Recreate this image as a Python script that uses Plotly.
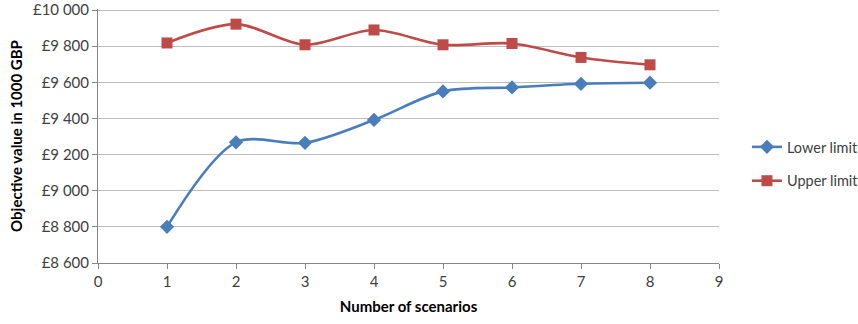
import plotly.graph_objects as go

# Objective values (in 1000 GBP) by number of scenarios
scenarios = [1, 2, 3, 4, 5, 6, 7, 8]
lower_limit = [8800, 9268, 9265, 9392, 9550, 9572, 9592, 9598]
upper_limit = [9818, 9922, 9808, 9890, 9808, 9815, 9738, 9697]

y_ticks = [8600, 8800, 9000, 9200, 9400, 9600, 9800, 10000]
y_tick_text = ["£" + f"{v:,}".replace(",", " ") for v in y_ticks]
x_ticks = list(range(0, 10))

FONT = "Lato, 'Open Sans', sans-serif"

fig = go.Figure()
fig.add_trace(go.Scatter(
    x=scenarios, y=lower_limit, name="Lower limit", legendgroup="lower",
    mode="lines+markers",
    line=dict(color="#4A7EBB", width=2.6, shape="spline", smoothing=0.9),
    marker=dict(symbol="diamond", size=11, color="#4A7EBB"),
))
fig.add_trace(go.Scatter(
    x=scenarios, y=upper_limit, name="Upper limit", legendgroup="upper",
    mode="lines+markers",
    line=dict(color="#BE4B48", width=2.6, shape="spline", smoothing=0.9),
    marker=dict(symbol="square", size=11, color="#BE4B48"),
))

fig.update_layout(
    width=858, height=324,
    margin=dict(l=98, r=139, t=9, b=61, autoexpand=False),
    paper_bgcolor="white", plot_bgcolor="white",
    font=dict(family=FONT, size=15, color="#404040"),
    legend=dict(
        x=1.045, y=0.39, xanchor="left", yanchor="middle",
        font=dict(family=FONT, size=14.5, color="#404040"),
        itemwidth=30, tracegroupgap=12,
    ),
    xaxis=dict(
        range=[0, 9], tickvals=x_ticks, ticktext=[str(v) for v in x_ticks],
        showgrid=False, zeroline=False,
        showline=True, linecolor="#868686", linewidth=1,
        ticks="outside", ticklen=5, tickcolor="#868686",
        title=dict(text="<b>Number of scenarios</b>", standoff=12,
                   font=dict(family=FONT, size=15, color="#000000")),
    ),
    yaxis=dict(
        range=[8600, 10006], tickvals=y_ticks, ticktext=y_tick_text,
        ticklabeloverflow="allow",
        showgrid=True, gridcolor="#BFBFBF", gridwidth=1, zeroline=False,
        showline=True, linecolor="#868686", linewidth=1,
        ticks="outside", ticklen=5, tickcolor="#868686",
        title=dict(text="<b>Objective value in 1000 GBP</b>", standoff=6,
                   font=dict(family=FONT, size=15, color="#000000")),
    ),
)

fig.write_html("out.html")
